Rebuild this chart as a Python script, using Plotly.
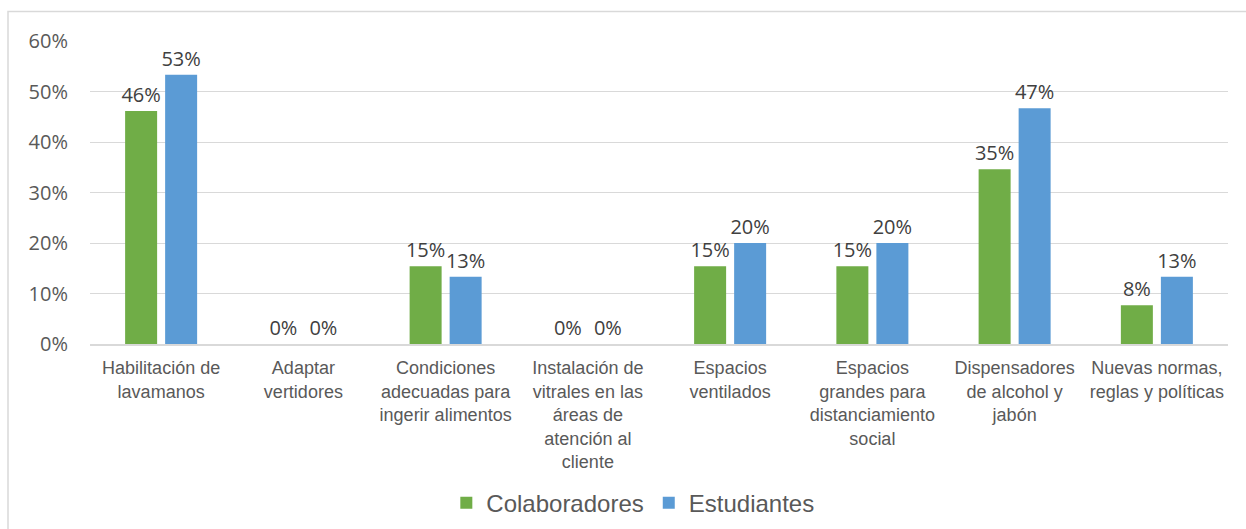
import plotly.graph_objects as go

categories = [
    "Habilitación de<br>lavamanos",
    "Adaptar<br>vertidores",
    "Condiciones<br>adecuadas para<br>ingerir alimentos",
    "Instalación de<br>vitrales en las<br>áreas de<br>atención al<br>cliente",
    "Espacios<br>ventilados",
    "Espacios<br>grandes para<br>distanciamiento<br>social",
    "Dispensadores<br>de alcohol y<br>jabón",
    "Nuevas normas,<br>reglas y políticas",
]
colaboradores = [0.4615, 0.0, 0.1538, 0.0, 0.1538, 0.1538, 0.3462, 0.0769]
estudiantes = [0.5333, 0.0, 0.1333, 0.0, 0.2, 0.2, 0.4667, 0.1333]
series_names = ["Colaboradores", "Estudiantes"]
colors = ["#70AD47", "#5B9BD5"]
y_ticks = [0, 0.1, 0.2, 0.3, 0.4, 0.5, 0.6]

num_font = "Open Sans, DejaVu Sans, sans-serif"
txt_font = "Liberation Sans, Arial, sans-serif"

fig = go.Figure()
for name, vals, col in zip(series_names, [colaboradores, estudiantes], colors):
    fig.add_trace(go.Bar(
        x=categories, y=vals, name=name,
        marker=dict(color=col, line=dict(width=0)),
        text=[f"{round(v*100):.0f}%" for v in vals],
        textposition="outside",
        constraintext="none",
        textfont=dict(family=num_font, size=20, color="#404040"),
        cliponaxis=False,
    ))

fig.update_layout(
    width=1246, height=529,
    margin=dict(l=90, r=18, t=41, b=185, autoexpand=False),
    paper_bgcolor="white", plot_bgcolor="white",
    barmode="group", bargap=0.4376, bargroupgap=0.2,
    showlegend=True,
    legend=dict(orientation="h", x=0.477, xanchor="center", y=-0.525, yanchor="middle",
                font=dict(family=txt_font, size=24, color="#595959")),
    uniformtext=dict(mode=False),
    shapes=[dict(type="rect", xref="paper", yref="paper",
                 x0=-82/1138, x1=1.2, y0=-1.0, y1=1 + 29.5/303,
                 line=dict(color="#D9D9D9", width=1.5), layer="below")],
)
fig.update_yaxes(range=[0, 0.6], tickvals=y_ticks, tickformat=".0%",
                 showgrid=True, gridcolor="#D9D9D9", gridwidth=1,
                 zeroline=False, showline=False, ticks="",
                 ticklabelstandoff=21,
                 tickfont=dict(family=num_font, size=20, color="#595959"))
fig.update_xaxes(showline=True, linecolor="#D9D9D9", linewidth=1.5,
                 ticks="", tickangle=0, ticklabelstandoff=7,
                 tickfont=dict(family=txt_font, size=18, color="#595959"))

fig.write_html("out.html", config={"displayModeBar": False},
               post_script="document.body.style.margin='0px';")
